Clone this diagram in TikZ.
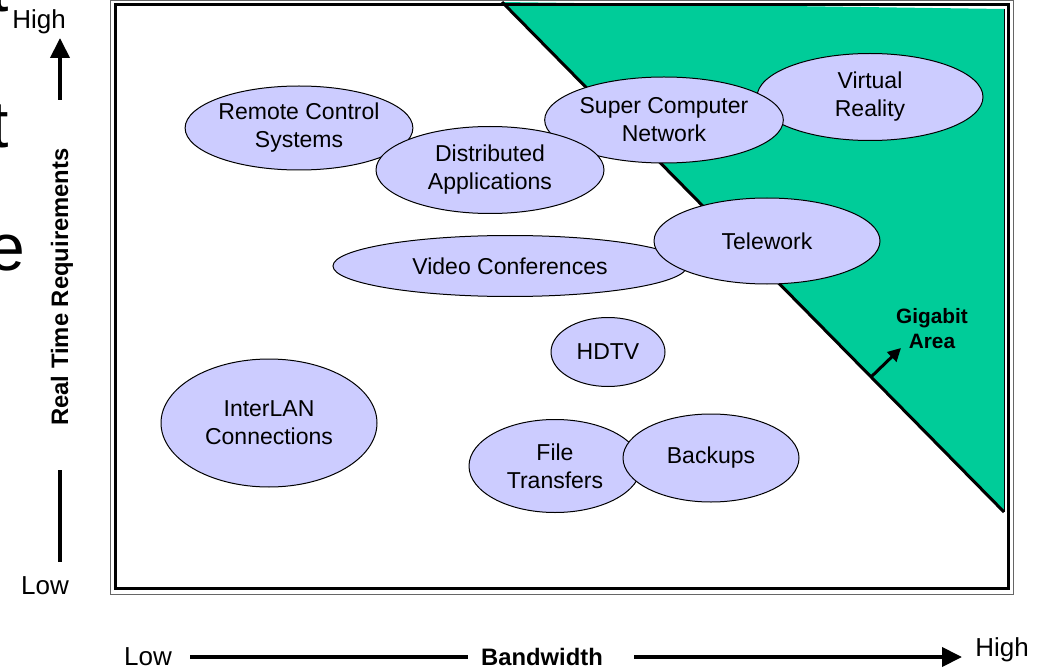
\documentclass[tikz,border=0pt]{standalone}
\usepackage{fontspec}
\setmainfont{Liberation Sans}
\usetikzlibrary{shapes.geometric, arrows.meta, positioning}
\definecolor{gigagreen}{RGB}{0,204,153}
\definecolor{applilac}{RGB}{204,204,255}
\tikzstyle{app} = [ellipse, draw=black, line width=1pt, fill=applilac, inner sep=0pt, align=center, font=\fontsize{23}{28}\selectfont]
\tikzstyle{axislabel} = [inner sep=0pt, font=\fontsize{26}{30}\selectfont]
\tikzstyle{axistitle} = [inner sep=0pt, font=\bfseries\fontsize{23.8}{27}\selectfont]
\tikzstyle{axisline} = [line width=4pt]
\tikzstyle{arrow} = [line width=4pt, -{Triangle[length=20pt,width=19pt]}]

\begin{document}
\begin{tikzpicture}[x=1pt, y=-1pt]
    \useasboundingbox (0,0) rectangle (1046,668);
    \clip (0,0) rectangle (1046,668);
    % cut off letters of the slide title
    \node[inner sep=0pt, anchor=base east, font=\fontsize{66}{70}\selectfont] (cut1) at (9,12) {t};
    \node[inner sep=0pt, anchor=base east, font=\fontsize{66}{70}\selectfont] (cut2) at (9,148) {t};
    \node[inner sep=0pt, anchor=base east, font=\fontsize{66}{70}\selectfont] (cut3) at (25,270) {e};
    % gigabit area
    \fill[gigagreen] (502,2) -- (1004,9) -- (1004,512) -- cycle;
    \draw[line width=1pt] (1004,9) -- (1004,512);
    \draw[line width=3pt] (502,2) -- (1004,512);
    % frame
    \draw[line width=0.8pt, black!60] (110.5,0.5) rectangle (1013,594);
    \draw[line width=3.2pt] (115.5,4.5) rectangle (1008.5,588.5);
    % applications
    \node[app, minimum width=226pt, minimum height=87pt] (vr) at (870,97) {Virtual\\Reality};
    \node[app, minimum width=228pt, minimum height=86pt] (scn) at (664,120) {Super Computer\\Network};
    \node[app, minimum width=225pt, minimum height=84pt] (rcs) at (299,128) {Remote Control\\Systems};
    \node[app, minimum width=228pt, minimum height=87pt] (dist) at (490,170) {Distributed\\Applications};
    \node[app, minimum width=354pt, minimum height=61pt] (video) at (510,266) {Video Conferences};
    \node[app, minimum width=226pt, minimum height=86pt] (tele) at (767,241) {Telework};
    \node[app, minimum width=114pt, minimum height=69pt] (hdtv) at (608,352) {HDTV};
    \node[app, minimum width=216pt, minimum height=128pt] (lan) at (269,423) {InterLAN\\Connections};
    \node[app, minimum width=172pt, minimum height=93pt] (file) at (555,466) {File\\Transfers};
    \node[app, minimum width=176pt, minimum height=88pt] (backup) at (711,458) {Backups};
    % gigabit label
    \node[inner sep=0pt, align=center, font=\bfseries\fontsize{20.8}{25}\selectfont] (giga) at (932,329) {Gigabit\\Area};
    \coordinate (gigafoot) at (871,377);
    \coordinate (gigatip) at (901,348);
    \draw[line width=3pt, -{Triangle[length=13pt,width=13pt]}] (gigafoot) -- (gigatip);
    % vertical axis
    \node[axislabel] (yhigh) at (39,22) {High};
    \node[axislabel] (ylow) at (45,586) {Low};
    \node[axistitle, rotate=90] (ytitle) at (62,287) {Real Time Requirements};
    \coordinate (ytop) at (60,38);
    \coordinate (ystart) at (60,100);
    \coordinate (yend) at (60,470);
    \coordinate (ybottom) at (60,562);
    \draw[arrow] (ystart) -- (ytop);
    \draw[axisline] (yend) -- (ybottom);
    % horizontal axis
    \node[axislabel] (xlow) at (148,657) {Low};
    \node[axistitle] (xtitle) at (542,657) {Bandwidth};
    \node[axislabel] (xhigh) at (1002,650) {High};
    \coordinate (xstart) at (190,657);
    \coordinate (xmid) at (468,657);
    \coordinate (xgo) at (634,657);
    \coordinate (xtip) at (962,657);
    \draw[axisline] (xstart) -- (xmid);
    \draw[arrow] (xgo) -- (xtip);
\end{tikzpicture}
\end{document}
